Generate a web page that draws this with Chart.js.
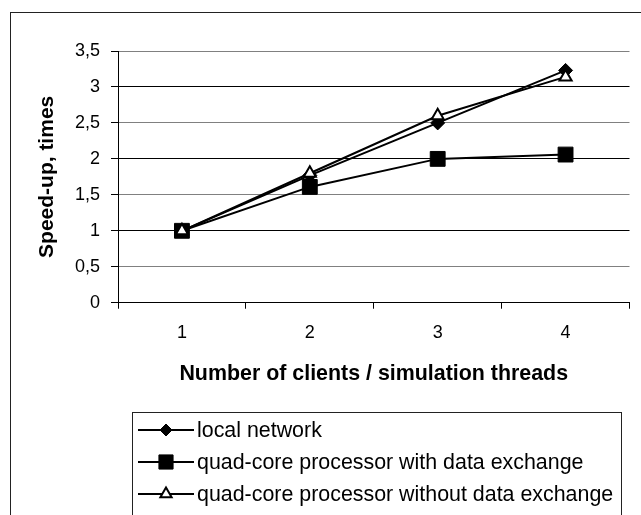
<!DOCTYPE html>
<html>
<head>
<meta charset="utf-8">
<script src="https://cdn.jsdelivr.net/npm/chart.js@4/dist/chart.umd.min.js"></script>
<style>
  html, body { margin: 0; padding: 0; background: #fff; }
  canvas { display: block; }
</style>
</head>
<body>
<canvas id="myChart" width="641" height="515"></canvas>
<script>
const categories = ["1", "2", "3", "4"];
const localNetwork = [1, 1.77, 2.5, 3.23];
const quadWithExchange = [1, 1.61, 2.0, 2.06];
const quadWithoutExchange = [1, 1.8, 2.6, 3.14];
const yTickLabels = ["0", "0,5", "1", "1,5", "2", "2,5", "3", "3,5"];
const seriesNames = [
  "local network",
  "quad-core processor with data exchange",
  "quad-core processor without data exchange",
];

const FONT = "'Liberation Sans', Arial, sans-serif";

// draws a marker like the chart's own point styles, for the legend
function drawMarker(ctx, style, x, y, r, fill, stroke, lw) {
  ctx.save();
  ctx.beginPath();
  if (style === "rectRot") {
    ctx.moveTo(x - r, y);
    ctx.lineTo(x, y - r);
    ctx.lineTo(x + r, y);
    ctx.lineTo(x, y + r);
  } else if (style === "rect") {
    const s = r * Math.SQRT1_2;
    ctx.rect(x - s, y - s, 2 * s, 2 * s);
  } else {
    const h = r * Math.sin(Math.PI / 3);
    ctx.moveTo(x, y - r);
    ctx.lineTo(x + h, y + r / 2);
    ctx.lineTo(x - h, y + r / 2);
  }
  ctx.closePath();
  ctx.fillStyle = fill;
  ctx.fill();
  ctx.lineWidth = lw;
  ctx.strokeStyle = stroke;
  ctx.stroke();
  ctx.restore();
}

const frameAndLegend = {
  id: "frameAndLegend",
  beforeDraw(chart) {
    const ctx = chart.ctx;
    ctx.save();
    ctx.fillStyle = "#fff";
    ctx.fillRect(0, 0, chart.width, chart.height);
    ctx.restore();
  },
  afterDraw(chart) {
    const ctx = chart.ctx;
    ctx.save();
    ctx.strokeStyle = "#222";
    ctx.lineWidth = 1;
    ctx.strokeRect(10.5, 12.5, 700, 600);
    ctx.strokeRect(132.5, 412.5, 489, 200);

    const rows = [430, 462, 494];
    chart.data.datasets.forEach((ds, i) => {
      const y = rows[i];
      ctx.beginPath();
      ctx.moveTo(138, y);
      ctx.lineTo(194, y);
      ctx.strokeStyle = "#000";
      ctx.lineWidth = 2;
      ctx.stroke();
      drawMarker(ctx, ds.pointStyle, 166, y, ds.legendRadius,
        ds.pointBackgroundColor, ds.pointBorderColor, ds.pointBorderWidth);
      ctx.fillStyle = "#000";
      ctx.font = "21.4px " + FONT;
      ctx.textBaseline = "middle";
      ctx.textAlign = "left";
      ctx.fillText(seriesNames[i], 197, y + 1);
    });
    ctx.restore();
  },
};

const ctx = document.getElementById("myChart").getContext("2d");

new Chart(ctx, {
  type: "line",
  data: {
    labels: categories,
    datasets: [
      {
        label: seriesNames[0],
        data: localNetwork,
        borderColor: "#000",
        borderWidth: 2,
        pointStyle: "rectRot",
        pointRadius: 7,
        pointBackgroundColor: "#000",
        pointBorderColor: "#000",
        pointBorderWidth: 1,
        legendRadius: 6,
        order: 2,
      },
      {
        label: seriesNames[1],
        data: quadWithExchange,
        borderColor: "#000",
        borderWidth: 2,
        pointStyle: "rect",
        pointRadius: 10.5,
        pointBackgroundColor: "#000",
        pointBorderColor: "#000",
        pointBorderWidth: 1,
        legendRadius: 10,
        order: 1,
      },
      {
        label: seriesNames[2],
        data: quadWithoutExchange,
        borderColor: "#000",
        borderWidth: 2,
        pointStyle: "triangle",
        pointRadius: 7,
        pointBackgroundColor: "#fff",
        pointBorderColor: "#000",
        pointBorderWidth: 2,
        legendRadius: 6.5,
        order: 0,
      },
    ],
  },
  options: {
    responsive: false,
    animation: false,
    events: [],
    layout: { padding: { left: 10, top: 51, right: 7, bottom: 128 } },
    plugins: {
      legend: { display: false },
      tooltip: { enabled: false },
    },
    scales: {
      x: {
        offset: true,
        grid: {
          offset: true,
          drawOnChartArea: true,
          color: (c) => (c.index === 4 ? "#808080" : "rgba(0,0,0,0)"),
          tickColor: "#000",
          tickLength: 6,
          lineWidth: 1,
        },
        border: { display: true, color: "#000", width: 1 },
        ticks: {
          color: "#000",
          padding: 14,
          font: { family: FONT, size: 18 },
        },
        title: {
          display: true,
          text: "Number of clients / simulation threads",
          color: "#000",
          font: { family: FONT, size: 21.4, weight: "bold" },
          padding: { top: 3, bottom: 0 },
        },
      },
      y: {
        min: 0,
        max: 3.5,
        afterFit(scale) {
          scale.width = 108;
        },
        grid: {
          color: (c) => (c.index % 2 === 1 ? "#808080" : "#000"),
          tickColor: "#000",
          tickLength: 7,
          lineWidth: 1,
        },
        border: { display: true, color: "#000", width: 1 },
        ticks: {
          stepSize: 0.5,
          color: "#000",
          padding: 11,
          font: { family: FONT, size: 18 },
          callback: (v, i) => yTickLabels[i],
        },
        title: {
          display: true,
          text: "Speed-up, times",
          color: "#000",
          font: { family: FONT, size: 21, weight: "bold" },
          padding: { top: 25, bottom: 0 },
        },
      },
    },
  },
  plugins: [frameAndLegend],
});
</script>
</body>
</html>
